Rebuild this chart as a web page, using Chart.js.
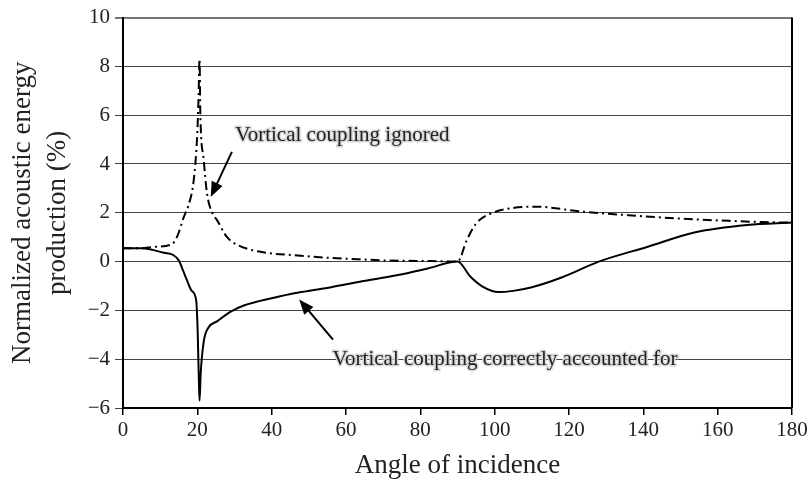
<!DOCTYPE html>
<html>
<head>
<meta charset="utf-8">
<script src="https://cdn.jsdelivr.net/npm/chart.js@4.4.1/dist/chart.umd.min.js"></script>
<style>
  html, body { margin: 0; padding: 0; background: #fff; }
  canvas { display: block; }
</style>
</head>
<body>
<canvas id="chart" width="811" height="481"></canvas>
<script>
// Vortical coupling correctly accounted for (solid line)
const correctAngles = [0, 5, 8, 11, 13.5, 15, 16.2, 17.2, 18.5, 19.7, 20.1, 20.4, 20.6, 20.9, 21.7, 23, 25.3, 29, 32.5, 40, 48, 56, 64, 74, 82, 90, 93.5, 97, 101, 105, 110, 118, 128, 141, 154, 168, 180];
const correctValues = [0.55, 0.55, 0.48, 0.36, 0.27, 0.05, -0.38, -0.76, -1.2, -1.6, -2.9, -4.8, -5.7, -4.6, -3.3, -2.7, -2.45, -2.05, -1.8, -1.5, -1.25, -1.05, -0.82, -0.55, -0.28, 0.0, -0.62, -1.05, -1.25, -1.2, -1.05, -0.65, 0.0, 0.6, 1.2, 1.5, 1.6];

// Vortical coupling ignored (dash-dot line)
const ignoredAngles = [0, 5, 8, 13, 14.5, 16.3, 18, 19, 19.9, 20.3, 20.6, 20.8, 21.7, 22.6, 24, 25.3, 28, 31, 37, 46, 55, 63, 70, 83, 90, 92.5, 95, 99, 105, 111, 123, 136, 150, 163, 172, 180];
const ignoredValues = [0.55, 0.55, 0.6, 0.7, 1.0, 1.8, 2.5, 3.3, 5.0, 6.6, 8.3, 6.1, 4.2, 2.8, 2.0, 1.7, 1.0, 0.67, 0.4, 0.26, 0.16, 0.1, 0.05, 0.02, 0.0, 0.88, 1.56, 1.97, 2.2, 2.25, 2.06, 1.9, 1.76, 1.67, 1.62, 1.6];

const xTitle = 'Angle of incidence';
const yTitle = ['Normalized acoustic energy', 'production (%)'];
const labelIgnored = 'Vortical coupling ignored';
const labelCorrect = 'Vortical coupling correctly accounted for';

const serif = '"Liberation Serif", "DejaVu Serif", serif';

function toPoints(xs, ys) {
  return xs.map((x, i) => ({ x: x, y: ys[i] }));
}

function drawArrow(ctx, x1, y1, x2, y2) {
  const ang = Math.atan2(y2 - y1, x2 - x1);
  const len = 15, half = 6;
  ctx.save();
  ctx.strokeStyle = '#000';
  ctx.fillStyle = '#000';
  ctx.lineWidth = 2;
  ctx.beginPath();
  ctx.moveTo(x1, y1);
  ctx.lineTo(x2 - Math.cos(ang) * len * 0.8, y2 - Math.sin(ang) * len * 0.8);
  ctx.stroke();
  ctx.beginPath();
  ctx.moveTo(x2, y2);
  ctx.lineTo(x2 - Math.cos(ang) * len + Math.sin(ang) * half, y2 - Math.sin(ang) * len - Math.cos(ang) * half);
  ctx.lineTo(x2 - Math.cos(ang) * len - Math.sin(ang) * half, y2 - Math.sin(ang) * len + Math.cos(ang) * half);
  ctx.closePath();
  ctx.fill();
  ctx.restore();
}

function haloText(ctx, text, x, y) {
  ctx.save();
  ctx.lineJoin = 'round';
  ctx.strokeStyle = '#d8d8d8';
  ctx.lineWidth = 3;
  ctx.strokeText(text, x, y);
  ctx.fillStyle = '#222';
  ctx.fillText(text, x, y);
  ctx.restore();
}

const decorations = {
  id: 'decorations',
  afterDraw(chart) {
    const ctx = chart.ctx;
    const area = chart.chartArea;
    const xs = chart.scales.x;
    const ys = chart.scales.y;

    // right frame line
    ctx.save();
    ctx.strokeStyle = '#000';
    ctx.lineWidth = 2;
    ctx.beginPath();
    ctx.moveTo(area.right, area.top);
    ctx.lineTo(area.right, area.bottom);
    ctx.stroke();
    ctx.restore();

    // annotations
    ctx.save();
    ctx.font = '21px ' + serif;
    ctx.textBaseline = 'middle';
    ctx.textAlign = 'left';
    haloText(ctx, labelIgnored, xs.getPixelForValue(30.2), ys.getPixelForValue(5.15));
    haloText(ctx, labelCorrect, xs.getPixelForValue(56.4), ys.getPixelForValue(-4.0));
    ctx.restore();

    drawArrow(ctx, xs.getPixelForValue(29.3), ys.getPixelForValue(4.5),
      xs.getPixelForValue(23.6), ys.getPixelForValue(2.65));
    drawArrow(ctx, xs.getPixelForValue(56.5), ys.getPixelForValue(-3.2),
      xs.getPixelForValue(47.4), ys.getPixelForValue(-1.55));

    // axis titles
    ctx.save();
    ctx.fillStyle = '#222';
    ctx.font = '27px ' + serif;
    ctx.textAlign = 'center';
    ctx.textBaseline = 'middle';
    ctx.fillText(xTitle, (area.left + area.right) / 2, 466);
    ctx.translate(40, (area.top + area.bottom) / 2);
    ctx.rotate(-Math.PI / 2);
    ctx.fillText(yTitle[0], 0, -17);
    ctx.fillText(yTitle[1], 0, 18);
    ctx.restore();
  }
};

new Chart(document.getElementById('chart'), {
  type: 'line',
  data: {
    datasets: [
      {
        label: labelCorrect,
        data: toPoints(correctAngles, correctValues),
        borderColor: '#000',
        borderWidth: 2,
        pointRadius: 0,
        cubicInterpolationMode: 'monotone',
        fill: false,
      },
      {
        label: labelIgnored,
        data: toPoints(ignoredAngles, ignoredValues),
        borderColor: '#000',
        borderWidth: 2,
        borderDash: [9, 4, 2, 4],
        pointRadius: 0,
        cubicInterpolationMode: 'monotone',
        fill: false,
      },
    ],
  },
  options: {
    responsive: false,
    animation: false,
    devicePixelRatio: 1,
    layout: { padding: { top: 17, right: 19, left: 0, bottom: 0 } },
    plugins: {
      legend: { display: false },
      tooltip: { enabled: false },
    },
    scales: {
      x: {
        type: 'linear',
        min: 0,
        max: 180,
        afterFit: (scale) => { scale.height = 73; },
        ticks: {
          stepSize: 20,
          color: '#222',
          padding: 3,
          maxRotation: 0,
          font: { family: serif, size: 21 },
        },
        grid: {
          drawOnChartArea: false,
          drawTicks: true,
          tickLength: 7,
          color: '#000',
          lineWidth: 1.5,
        },
        border: { color: '#000', width: 2 },
      },
      y: {
        min: -6,
        max: 10,
        afterFit: (scale) => { scale.width = 123; },
        ticks: {
          stepSize: 2,
          color: '#222',
          padding: 5,
          font: { family: serif, size: 21 },
          callback: (v) => String(v).replace('-', '\u2212'),
        },
        grid: {
          drawTicks: true,
          tickLength: 8,
          color: (c) => (c.tick && c.tick.value === 10 ? '#777' : '#444'),
          lineWidth: (c) => (c.tick && c.tick.value === 10 ? 2 : 1),
        },
        border: { color: '#000', width: 2 },
      },
    },
  },
  plugins: [decorations],
});
</script>
</body>
</html>
